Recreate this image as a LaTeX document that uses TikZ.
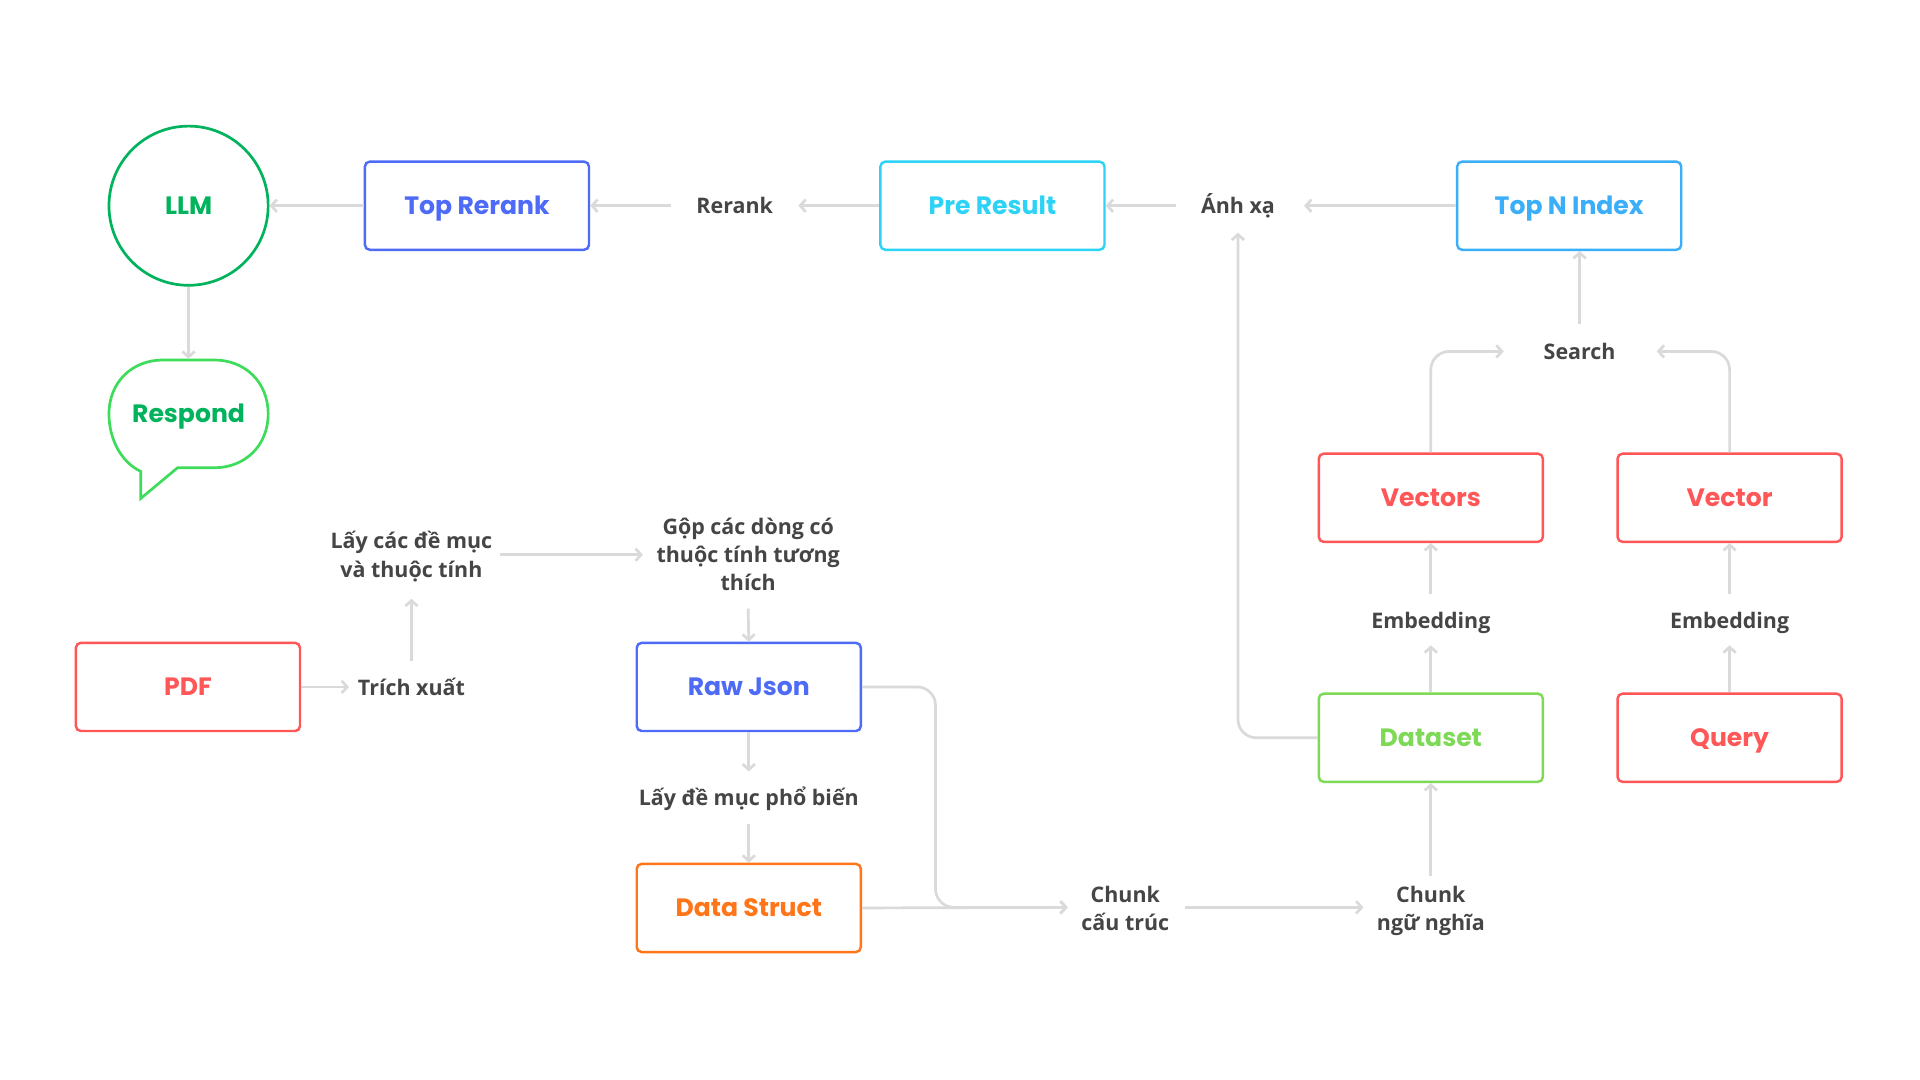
\documentclass[tikz,border=0pt]{standalone}
\usepackage{fontspec}
\setmainfont{Open Sans}
\newfontfamily\boxfont{Poppins}
\newfontfamily\labfont{Open Sans}
\usetikzlibrary{arrows.meta,calc}
\definecolor{cgray}{HTML}{DADADA}
\definecolor{ctext}{HTML}{454545}
\definecolor{cllm}{HTML}{00B35C}
\definecolor{cresp}{HTML}{3DDC5A}
\definecolor{cblue}{HTML}{4D6BF7}
\definecolor{ccyan}{HTML}{2CD3F6}
\definecolor{csky}{HTML}{3BAEFA}
\definecolor{cred}{HTML}{FF5757}
\definecolor{cgreen}{HTML}{7ED957}
\definecolor{corange}{HTML}{FF7518}
\tikzset{
  bfont/.style={font=\boxfont\bfseries\fontsize{20.5}{24}\selectfont, text height=14.3pt, text depth=0pt},
  box/.style={draw, line width=2pt, rounded corners=4pt, minimum width=183pt,
    minimum height=72pt, inner sep=0pt, bfont},
  lab/.style={text=ctext, inner sep=0pt, align=center,
    font=\labfont\bfseries\fontsize{17.5}{23}\selectfont},
  conn/.style={draw=cgray, line width=2.2pt, rounded corners=15pt,
    -{Straight Barb[length=4.5pt,width=10pt]}},
}
\begin{document}
\begin{tikzpicture}[x=1pt,y=-1pt]
\fill[white] (0,0) rectangle (1568,882);
\useasboundingbox (0,0) rectangle (1568,882);

% nodes
\node[circle, draw=cllm, line width=2.2pt, minimum size=130pt, inner sep=0pt, text=cllm, bfont] (llm) at (154,168) {LLM};
\node[box, draw=cblue, text=cblue] (toprerank) at (389.5,168) {Top Rerank};
\node[lab] (rerank) at (600,168) {Rerank};
\node[box, draw=ccyan, text=ccyan] (preresult) at (810.5,168) {Pre Result};
\node[lab] (anhxa) at (1011,168) {Ánh xạ};
\node[box, draw=csky, text=csky] (topn) at (1281.5,168) {Top N Index};
\node[lab] (search) at (1290,287) {Search};
\node[box, draw=cred, text=cred] (vectors) at (1168.5,406.5) {Vectors};
\node[box, draw=cred, text=cred] (vector) at (1412.5,406.5) {Vector};
\node[lab] (emb1) at (1168.5,509) {Embedding};
\node[lab] (emb2) at (1412.5,509) {Embedding};
\node[box, draw=cgreen, text=cgreen] (dataset) at (1168.5,602.5) {Dataset};
\node[box, draw=cred, text=cred] (query) at (1412.5,602.5) {Query};
\node[lab] (chunk2) at (1168.5,744) {Chunk\\ngữ nghĩa};
\node[lab] (chunk1) at (919,742) {Chunk\\cấu trúc};
\node[box, draw=cred, text=cred] (pdf) at (153.5,561) {PDF};
\node[lab] (trich) at (336,561) {Trích xuất};
\node[lab] (layc) at (336,454.5) {Lấy các đề mục\\và thuộc tính};
\node[lab] (gop) at (611,453) {Gộp các dòng có\\thuộc tính tương\\thích};
\node[box, draw=cblue, text=cblue] (rawjson) at (611.5,561) {Raw Json};
\node[lab] (layd) at (611.5,652) {Lấy đề mục phổ biến};
\node[box, draw=corange, text=corange] (datastruct) at (611.5,741.5) {Data Struct};

% speech bubble
\draw[cresp, line width=2.2pt, line join=miter]
  (115,407) -- (145,382) -- (175,382)
  .. controls (200,382) and (219,364) .. (219,338)
  .. controls (219,312) and (200,294) .. (175,294) -- (133,294)
  .. controls (108,294) and (89,312) .. (89,338)
  .. controls (89,360) and (100,378) .. (115,385) -- cycle;
\node[text=cllm, inner sep=0pt, bfont] (respond) at (154,338) {Respond};
\coordinate (resptop) at (154,293);
\coordinate (bend) at (764,741);
\coordinate (s1) at ($(search)+(0,-22)$);

% connectors
\draw[conn] (llm.south) -- (resptop);
\draw[conn] (toprerank.west) -- (llm.east);
\draw[conn] ($(rerank)+(-52,0)$) -- (toprerank.east);
\draw[conn] (preresult.west) -- ($(rerank)+(52,0)$);
\draw[conn] ($(anhxa)+(-51,0)$) -- (preresult.east);
\draw[conn] (topn.west) -- ($(anhxa)+(54,0)$);
\draw[conn] (s1) -- (s1 |- topn.south);
\draw[conn] (vectors.north) |- ($(search)+(-62,0)$);
\draw[conn] (vector.north) |- ($(search)+(63,0)$);
\draw[conn] ($(emb1)+(0,-24)$) -- (vectors.south);
\draw[conn] (dataset.north) -- ($(emb1)+(0,18)$);
\draw[conn] ($(emb2)+(0,-24)$) -- (vector.south);
\draw[conn] (query.north) -- ($(emb2)+(0,18)$);
\draw[conn] ($(chunk2)+(0,-29)$) -- (dataset.south);
\draw[conn] (dataset.west) -| ($(anhxa)+(0,22)$);
\draw[conn] ($(chunk1)+(49,-1)$) -- ($(chunk2)+(-55,-3)$);
\draw[conn] (datastruct.east) -- ($(chunk1)+(-47,-1)$);
\draw[conn] (rawjson.east) -| (bend) -- ($(chunk1)+(-47,-1)$);
\draw[conn] (pdf.east) -- ($(trich)+(-51,0)$);
\draw[conn] ($(trich)+(0,-21)$) -- ($(layc)+(0,34.5)$);
\draw[conn] ($(layc)+(72,-1.5)$) -- ($(gop)+(-86,0)$);
\draw[conn] ($(gop)+(0,44)$) -- (rawjson.north);
\draw[conn] (rawjson.south) -- ($(layd)+(0,-22)$);
\draw[conn] ($(layd)+(0,21)$) -- (datastruct.north);
\end{tikzpicture}
\end{document}
